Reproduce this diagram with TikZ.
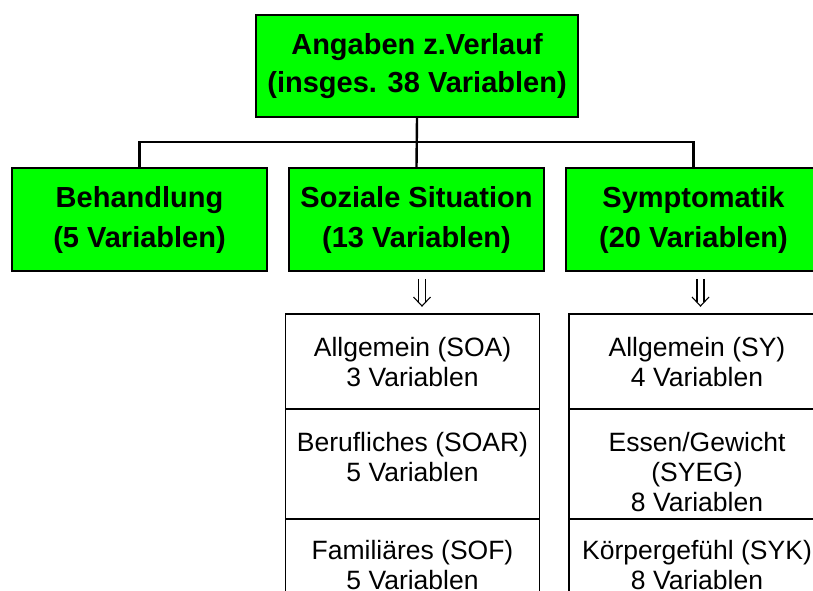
\documentclass[tikz,border=0pt]{standalone}
\usepackage{fontspec}
\setmainfont{Liberation Sans}
\definecolor{vgreen}{RGB}{0,255,0}

\begin{document}
\begin{tikzpicture}[x=1pt, y=-1pt]
            \tikzstyle{group}=[draw=black,line width=1.8pt,fill=vgreen,minimum height=103pt,minimum width=255pt,inner sep=0pt,align=center,font=\fontsize{29}{40}\selectfont\bfseries]
            \tikzstyle{cell}=[draw=black,line width=1.5pt,minimum width=254pt,anchor=north,inner sep=0pt]
            \tikzstyle{celltext}=[anchor=north,align=center,inner sep=0pt,font=\fontsize{26.5}{30}\selectfont]
            \tikzstyle{link}=[line width=2.4pt]
            \tikzstyle{dnarrow}=[line width=1.1pt]

            \useasboundingbox (0,0) rectangle (813,590);

            \node[group,minimum width=322pt,minimum height=102pt,font=\fontsize{29}{38}\selectfont\bfseries] (Z_0) at (417,66) {Angaben z.Verlauf\\(insges. 38 Variablen)};
            \node[group] (Z_1) at (139.5,219.5) {Behandlung\\(5 Variablen)};
            \node[group] (Z_2) at (416.5,219.5) {Soziale Situation\\(13 Variablen)};
            \node[group] (Z_3) at (693.5,219.5) {Symptomatik\\(20 Variablen)};

            \coordinate (bus) at (417,142);
            \draw[link] (Z_0.south) -- (Z_2.north);
            \draw[link] (Z_1.north) |- (bus) -| (Z_3.north);

            \node[cell,minimum height=95pt] (S_1) at (412.5,313) {};
            \node[cell,minimum height=110pt] (S_2) at (412.5,408) {};
            \node[cell,minimum height=110pt] (S_3) at (412.5,518) {};
            \node[cell,minimum height=95pt,minimum width=256pt] (Y_1) at (697,313) {};
            \node[cell,minimum height=110pt,minimum width=256pt] (Y_2) at (697,408) {};
            \node[cell,minimum height=110pt,minimum width=256pt] (Y_3) at (697,518) {};

            \node[celltext] (S_1t) at ([yshift=-24pt]S_1.north) {Allgemein (SOA)\\3 Variablen};
            \node[celltext] (S_2t) at ([yshift=-24.5pt]S_2.north) {Berufliches (SOAR)\\5 Variablen};
            \node[celltext] (S_3t) at ([yshift=-22pt]S_3.north) {Familiäres (SOF)\\5 Variablen};
            \node[celltext] (Y_1t) at ([yshift=-24pt]Y_1.north) {Allgemein (SY)\\4 Variablen};
            \node[celltext] (Y_2t) at ([yshift=-24.5pt]Y_2.north) {Essen/Gewicht\\(SYEG)\\8 Variablen};
            \node[celltext] (Y_3t) at ([yshift=-22pt]Y_3.north) {Körpergefühl (SYK)\\8 Variablen};

            \coordinate (a_1) at ([xshift=5.5pt,yshift=-7pt]Z_2.south);
            \coordinate (b_1) at ([xshift=9.5pt,yshift=7pt]S_1.north);
            \coordinate (a_2) at ([xshift=7pt,yshift=-7pt]Z_3.south);
            \coordinate (b_2) at ([xshift=3.5pt,yshift=7pt]Y_1.north);
            \foreach \a/\b in {a_1/b_1,a_2/b_2} {
                \draw[dnarrow] ([xshift=-3.5pt]\a) -- ([xshift=-3.5pt,yshift=3.7pt]\b);
                \draw[dnarrow] ([xshift=3.5pt]\a) -- ([xshift=3.5pt,yshift=3.7pt]\b);
                \draw[dnarrow] ([xshift=-8.5pt,yshift=9pt]\b) -- (\b) -- ([xshift=8.5pt,yshift=9pt]\b);
            }
        \end{tikzpicture}
\end{document}
